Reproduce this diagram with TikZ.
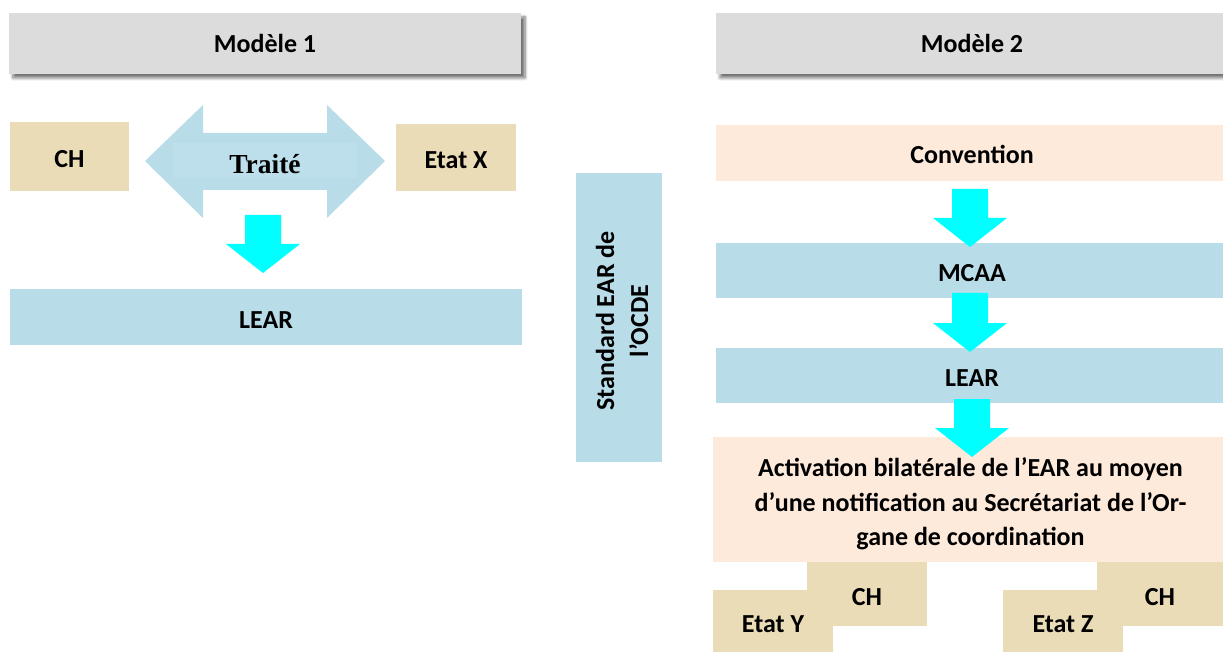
\documentclass[tikz,border=0pt]{standalone}
\usepackage{fontspec}
\setmainfont{Carlito}
\newfontfamily\traitefont{Liberation Serif}
\usetikzlibrary{shadows.blur}
\definecolor{hdr}{HTML}{DCDCDC}
\definecolor{tan}{HTML}{EBDCB8}
\definecolor{lblue}{HTML}{B8DDE9}
\definecolor{peach}{HTML}{FDEADB}
\definecolor{cyanarrow}{HTML}{00FFFF}
\newcommand{\blockarrow}[4]{% name, cx, ytop, ytip
  \fill[cyanarrow] (#2-18,#3) -- (#2+18,#3) -- (#2+18,#4-29) -- (#2+37,#4-29)
    -- (#2,#4) -- (#2-37,#4-29) -- (#2-18,#4-29) -- cycle;
  \coordinate (#1) at (#2,#4);}
\begin{document}
\begin{tikzpicture}[x=1pt,y=-1pt,
  txt/.style={rectangle, inner sep=0pt, font=\fontsize{26}{34}\selectfont\bfseries, text=black, align=center},
  box/.style={txt, text height=22pt, text depth=0pt},
  header/.style={txt, fill=hdr, minimum height=61pt, minimum width=512pt,
    blur shadow={shadow xshift=4pt, shadow yshift=-4pt, shadow blur steps=6, shadow blur radius=3pt, shadow opacity=55}},
  tanbox/.style={box, fill=tan},
  bluebox/.style={box, fill=lblue},
  peachbox/.style={box, fill=peach},
]
\useasboundingbox (0,0) rectangle (1223,652);

% ---------- Modele 1 ----------
\node[header] (m1) at (265,43.5) {Modèle 1};
\node[tanbox, minimum width=119pt, minimum height=69pt] (ch1) at (69.5,156.5) {CH};
\node[tanbox, minimum width=120pt, minimum height=67pt] (etx) at (456,157.5) {Etat X};
\fill[lblue] (145,161) -- (203,105) -- (203,133) -- (327,133) -- (327,105) -- (385,161)
  -- (327,218) -- (327,190) -- (203,190) -- (203,218) -- cycle;
\fill[lblue!93!white] (173,143) rectangle (357,178);
\node[inner sep=0pt, font=\fontsize{27.5}{30}\selectfont\traitefont\bfseries] (traite) at (265,164) {Traité};
\node[bluebox, minimum width=512pt, minimum height=56pt] (lear1) at (266,317) {LEAR};
\blockarrow{a0}{263}{215}{273}

% ---------- Standard ----------
\node[fill=lblue, inner sep=0pt, minimum width=86pt, minimum height=289pt] (std) at (618.5,317.5) {};
\node[txt, rotate=90] (stdtxt) at (622,321) {Standard EAR de\\l’OCDE};

% ---------- Modele 2 ----------
\node[header] (m2) at (972,43.5) {Modèle 2};
\node[peachbox, minimum width=512pt, minimum height=56pt] (conv) at (972,153) {Convention};
\node[bluebox, minimum width=512pt, minimum height=55pt] (mcaa) at (972,270.5) {MCAA};
\node[bluebox, minimum width=512pt, minimum height=55pt] (lear2) at (972,375.5) {LEAR};
\node[fill=peach, inner sep=0pt, minimum width=515pt, minimum height=125pt] (act) at (970.5,499.5) {};
\blockarrow{a1}{970}{189}{247}
\blockarrow{a2}{970}{293}{352}
\blockarrow{a3}{972}{399}{457}
\node[txt, font=\fontsize{26}{34.5}\selectfont\bfseries] (acttxt) at (970.5,504)
  {Activation bilatérale de l’EAR au moyen\\d’une notification au Secrétariat de l’Or-\\gane de coordination};

\node[tanbox, minimum width=120pt, minimum height=64pt] (chy) at (867,594) {CH};
\node[tanbox, minimum width=120pt, minimum height=62pt] (ety) at (773,621) {Etat Y};
\node[tanbox, minimum width=126pt, minimum height=64pt] (chz) at (1160,594) {CH};
\node[tanbox, minimum width=120pt, minimum height=62pt] (etz) at (1063,621) {Etat Z};
\end{tikzpicture}
\end{document}
